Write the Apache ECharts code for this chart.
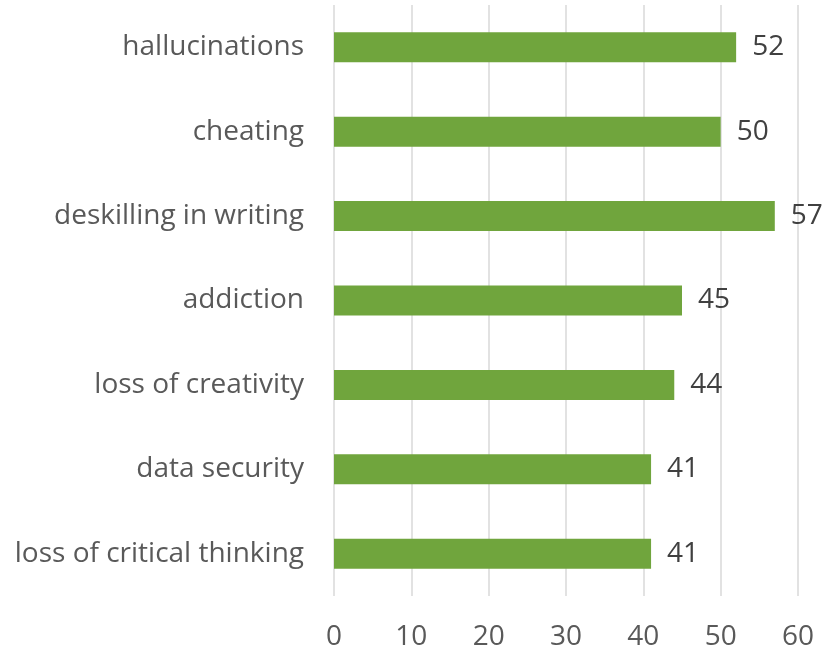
<!DOCTYPE html>
<html>
<head>
<meta charset="utf-8">
<script src="https://cdn.jsdelivr.net/npm/echarts@6/dist/echarts.min.js"></script>
<style>
  html, body { margin: 0; padding: 0; background: #fff; }
  #chart { width: 840px; height: 651px; }
</style>
</head>
<body>
<div id="chart"></div>
<script>
// categories listed top to bottom
const categories = [
  "hallucinations",
  "cheating",
  "deskilling in writing",
  "addiction",
  "loss of creativity",
  "data security",
  "loss of critical thinking"
]
const counts = [52, 50, 57, 45, 44, 41, 41]
const xTicks = [0, 10, 20, 30, 40, 50, 60]

const font = "Open Sans"
const myChart = echarts.init(document.getElementById("chart"))

const option = {
  animation: false,
  grid: {
    left: 334,
    right: 42,
    top: 5,
    bottom: 55
  },
  xAxis: {
    type: "value",
    min: xTicks[0],
    max: xTicks[xTicks.length - 1],
    interval: 10,
    axisLine: { show: false },
    axisTick: { show: false },
    axisLabel: {
      margin: 27,
      color: "#595959",
      fontFamily: font,
      fontSize: 28
    },
    splitLine: {
      lineStyle: { color: "#d9d9d9", width: 1.5 }
    }
  },
  yAxis: {
    type: "category",
    inverse: true,
    data: categories,
    axisLine: { show: false },
    axisTick: { show: false },
    axisLabel: {
      margin: 30,
      color: "#595959",
      fontFamily: font,
      fontSize: 28
    }
  },
  series: [
    {
      type: "bar",
      data: counts,
      barWidth: 30,
      itemStyle: { color: "#70a53d" },
      label: {
        show: true,
        position: "right",
        distance: 16,
        color: "#404040",
        fontFamily: font,
        fontSize: 28
      }
    }
  ]
}
myChart.setOption(option)
</script>
</body>
</html>
